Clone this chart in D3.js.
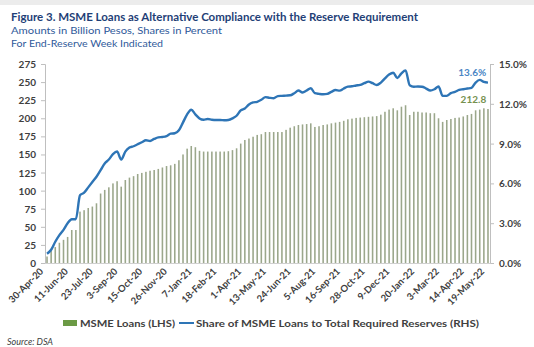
<!DOCTYPE html>
<html>
<head>
<meta charset="utf-8">
<script src="https://cdn.jsdelivr.net/npm/d3@7"></script>
<style>
	body { margin: 0; background: #ffffff; }
	svg { display: block; font-family: Lato, "Open Sans", sans-serif; }
</style>
</head>
<body>
<div id="chart"></div>
<script>
// weekly data, end-reserve week 30-Apr-20 .. 19-May-22
const start_week = new Date(2020, 3, 30)
const n_weeks = 108
const fmt = d3.timeFormat("%-d-%b-%y")
const weeks = d3.range(n_weeks).map(i => fmt(d3.timeDay.offset(start_week, 7 * i)))

// MSME loans, billion pesos (LHS)
const msme_loans = [
	9, 17, 22, 28, 32, 36, 45.6, 45.6, 71, 73,
	76, 78, 82.5, 96, 101, 104.6, 110, 113, 105.5, 114.7,
	118, 120, 123, 124.5, 126, 127.5, 128.5, 130, 132, 134,
	135, 137, 142, 150, 158, 161.7, 160, 155, 154, 154,
	154, 154, 154, 154, 154.5, 156, 158.5, 165, 170, 172,
	174.5, 177, 178, 181, 181, 181, 181, 181, 184, 187,
	189, 190.7, 191.5, 192, 193, 188, 189, 190.7, 191.5, 193,
	194, 195, 196.5, 198.6, 199.5, 200.5, 201, 201.5, 202, 202.5,
	203, 205, 209, 212, 213.8, 211, 216, 218, 204.5, 209,
	209, 208, 208, 207, 207, 200, 195, 197.6, 199, 200.5,
	201, 202.5, 204.5, 206, 211, 212, 213.8, 212.8
]

// share of MSME loans to total required reserves, percent (RHS)
const share_pct = [
	0.7, 1.0, 1.6, 2.1, 2.5, 3.0, 3.3, 3.3, 5.1, 5.3,
	5.7, 6.1, 6.5, 7.0, 7.5, 7.8, 8.2, 8.4, 7.8, 8.4,
	8.7, 8.8, 8.95, 9.1, 9.25, 9.2, 9.35, 9.47, 9.5, 9.57,
	9.75, 9.78, 10.0, 10.6, 11.2, 11.55, 11.2, 10.9, 10.8, 10.85,
	10.8, 10.78, 10.78, 10.76, 10.78, 10.9, 11.1, 11.5, 11.65, 11.95,
	12.1, 12.15, 12.3, 12.5, 12.45, 12.42, 12.58, 12.6, 12.62, 12.64,
	12.8, 13.0, 12.85, 13.0, 13.17, 12.8, 12.75, 12.72, 12.75, 12.9,
	13.04, 12.99, 13.15, 13.29, 13.32, 13.38, 13.42, 13.55, 13.67, 13.55,
	13.42, 13.6, 13.92, 14.2, 14.34, 13.95, 14.3, 14.52, 13.4, 13.29,
	13.3, 13.29, 13.15, 13.0, 13.1, 13.3, 12.6, 12.6, 12.8, 12.9,
	13.05, 13.1, 13.15, 13.2, 13.6, 13.8, 13.65, 13.6
]

const x_tick_labels = ["30-Apr-20", "11-Jun-20", "23-Jul-20", "3-Sep-20", "15-Oct-20", "26-Nov-20",
	"7-Jan-21", "18-Feb-21", "1-Apr-21", "13-May-21", "24-Jun-21", "5-Aug-21", "16-Sep-21",
	"28-Oct-21", "9-Dec-21", "20-Jan-22", "3-Mar-22", "14-Apr-22", "19-May-22"]
const left_ticks = [0, 25, 50, 75, 100, 125, 150, 175, 200, 225, 250, 275]
const right_ticks = [0, 3, 6, 9, 12, 15]

const title = "Figure 3. MSME Loans as Alternative Compliance with the Reserve Requirement"
const subtitle_1 = "Amounts in Billion Pesos, Shares in Percent"
const subtitle_2 = "For End-Reserve Week Indicated"
const legend_bars = "MSME Loans (LHS)"
const legend_line = "Share of MSME Loans to Total Required Reserves (RHS)"
const source_note = "Source: DSA"

const width = 534
const height = 347
const plot = { left: 45, right: 490, top: 64, bottom: 263 }
const axis_color = "#bfbfbf"
const label_color = "#404040"

const svg = d3.select("#chart").append("svg")
	.attr("width", width)
	.attr("height", height)

svg.append("rect").attr("width", width).attr("height", 5).attr("fill", "#ececec")

// titles
svg.append("text")
	.attr("x", 11).attr("y", 21)
	.attr("font-size", 11).attr("font-weight", "bold")
	.attr("fill", "#1f3f77")
	.attr("textLength", 407).attr("lengthAdjust", "spacingAndGlyphs")
	.text(title)
svg.append("text")
	.attr("x", 11).attr("y", 34)
	.attr("font-size", 10).attr("fill", "#2f5a9a")
	.attr("textLength", 211).attr("lengthAdjust", "spacingAndGlyphs")
	.text(subtitle_1)
svg.append("text")
	.attr("x", 11).attr("y", 47)
	.attr("font-size", 10).attr("fill", "#2f5a9a")
	.attr("textLength", 152).attr("lengthAdjust", "spacingAndGlyphs")
	.text(subtitle_2)

// scales
const x_scale = d3.scaleBand()
	.domain(weeks)
	.range([plot.left, plot.right])
	.paddingInner(0.62)
	.paddingOuter(0.3)

const y_left = d3.scaleLinear().domain([0, 275]).range([plot.bottom, plot.top])
const y_right = d3.scaleLinear().domain([0, 15]).range([plot.bottom, plot.top])

// bars
svg.append("g")
	.attr("class", "bars")
	.selectAll("rect")
	.data(msme_loans)
	.join("rect")
	.attr("x", (d, i) => x_scale(weeks[i]))
	.attr("y", d => y_left(d))
	.attr("width", x_scale.bandwidth())
	.attr("height", d => plot.bottom - y_left(d))
	.attr("fill", "#9ba78b")

// axes
const y_axis_left = d3.axisLeft(y_left).tickValues(left_ticks).tickSize(4).tickPadding(5)
const g_left = svg.append("g")
	.attr("transform", `translate(${plot.left},0)`)
	.call(y_axis_left)

const y_axis_right = d3.axisRight(y_right).tickValues(right_ticks).tickSize(4).tickPadding(5)
	.tickFormat(d => d3.format(".1f")(d) + "%")
const g_right = svg.append("g")
	.attr("transform", `translate(${plot.right},0)`)
	.call(y_axis_right)

const x_axis = d3.axisBottom(x_scale).tickValues(x_tick_labels).tickSize(0).tickPadding(0)
const g_x = svg.append("g")
	.attr("transform", `translate(0,${plot.bottom})`)
	.call(x_axis)

g_x.selectAll(".tick text")
	.attr("text-anchor", "end")
	.attr("dy", 0)
	.attr("transform", "translate(-3,9) rotate(-45)")
	.attr("font-size", 9.5)

;[g_left, g_right].forEach(g => {
	g.selectAll(".tick text").attr("font-size", 10).attr("dy", "0.35em")
})
;[g_left, g_right, g_x].forEach(g => {
	g.selectAll(".domain").attr("stroke", axis_color)
	g.selectAll(".tick line").attr("stroke", axis_color)
	g.selectAll(".tick text")
		.attr("fill", label_color)
		.attr("font-weight", "bold")
		.attr("font-family", "Lato, 'Open Sans', sans-serif")
})
g_x.select(".domain").attr("stroke", "#d0d0d0")

// share line
const line = d3.line()
	.x((d, i) => x_scale(weeks[i]) + x_scale.bandwidth() / 2)
	.y(d => y_right(d))
	.curve(d3.curveMonotoneX)

svg.append("path")
	.datum(share_pct)
	.attr("d", line)
	.attr("fill", "none")
	.attr("stroke", "#2e75b6")
	.attr("stroke-width", 2.4)

// end labels
const last = n_weeks - 1
svg.append("text")
	.attr("x", x_scale(weeks[last]) - 1)
	.attr("y", y_right(share_pct[last]) - 7)
	.attr("text-anchor", "end")
	.attr("font-size", 10).attr("font-weight", "bold")
	.attr("fill", "#4a86c5")
	.text(d3.format(".1f")(share_pct[last]) + "%")
svg.append("text")
	.attr("x", x_scale(weeks[last]) - 1)
	.attr("y", y_left(msme_loans[last]) - 6)
	.attr("text-anchor", "end")
	.attr("font-size", 10).attr("font-weight", "bold")
	.attr("fill", "#76914f")
	.text(d3.format(".1f")(msme_loans[last]))

// legend
const legend = svg.append("g").attr("transform", "translate(0,323)")
legend.append("rect")
	.attr("x", 63).attr("y", -3).attr("width", 14).attr("height", 6)
	.attr("fill", "#6b9a45")
legend.append("text")
	.attr("x", 80).attr("y", 4)
	.attr("font-size", 10).attr("font-weight", "bold").attr("fill", label_color)
	.attr("textLength", 95).attr("lengthAdjust", "spacingAndGlyphs")
	.text(legend_bars)
legend.append("line")
	.attr("x1", 179).attr("x2", 194).attr("y1", 0).attr("y2", 0)
	.attr("stroke", "#2e75b6").attr("stroke-width", 2)
legend.append("text")
	.attr("x", 196).attr("y", 4)
	.attr("font-size", 10).attr("font-weight", "bold").attr("fill", label_color)
	.attr("textLength", 283).attr("lengthAdjust", "spacingAndGlyphs")
	.text(legend_line)

svg.append("text")
	.attr("x", 7).attr("y", 345)
	.attr("font-size", 9).attr("font-style", "italic").attr("fill", label_color)
	.text(source_note)
</script>
</body>
</html>
